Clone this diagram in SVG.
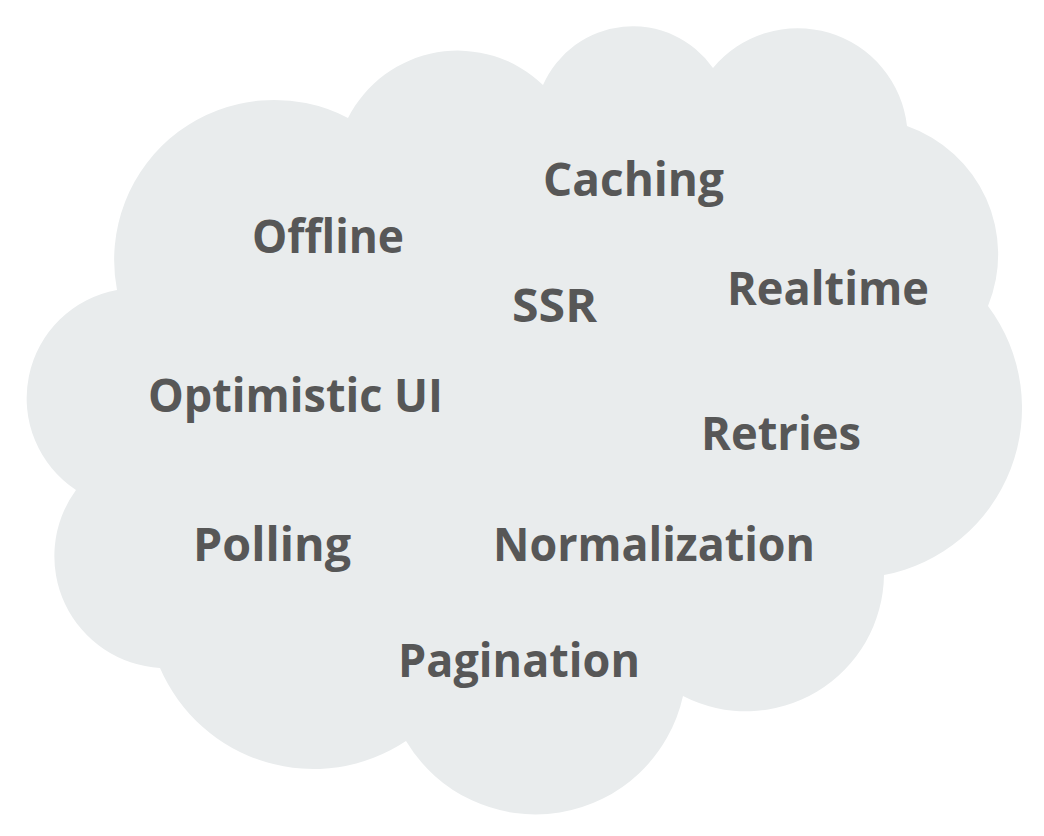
<svg xmlns="http://www.w3.org/2000/svg" width="1044" height="836" viewBox="0 0 1044 836">
<style>
.w{font-family:"Open Sans","Liberation Sans",sans-serif;font-weight:700;font-size:46px;fill:#575757}
</style>
<rect width="1044" height="836" fill="#ffffff"/>
<g id="cloud">
<path d="M117,290 A160,160 0 0 1 348,118 A123,123 0 0 1 543,85 A98,98 0 0 1 713,68 A110,110 0 0 1 907,126 A136,136 0 0 1 988,306 A170,170 0 0 1 884,575 A138,138 0 0 1 683,696 A151,151 0 0 1 406,741 A167,167 0 0 1 160,668 A112,112 0 0 1 76,490 A110,110 0 0 1 117,290 Z" fill="#e9eced"/>
</g>
<g id="words">
<text id="caching" class="w" x="543" y="196" textLength="181" lengthAdjust="spacingAndGlyphs">Caching</text>
<text id="offline" class="w" x="252" y="253" textLength="152" lengthAdjust="spacingAndGlyphs">Offline</text>
<text id="ssr" class="w" x="512" y="322" textLength="85" lengthAdjust="spacingAndGlyphs">SSR</text>
<text id="realtime" class="w" x="727" y="305" textLength="202" lengthAdjust="spacingAndGlyphs">Realtime</text>
<text id="optimistic" class="w" x="148" y="412" textLength="295" lengthAdjust="spacingAndGlyphs">Optimistic UI</text>
<text id="retries" class="w" x="701" y="450" textLength="160" lengthAdjust="spacingAndGlyphs">Retries</text>
<text id="polling" class="w" x="193" y="561" textLength="158" lengthAdjust="spacingAndGlyphs">Polling</text>
<text id="normalization" class="w" x="493" y="561" textLength="322" lengthAdjust="spacingAndGlyphs">Normalization</text>
<text id="pagination" class="w" x="398" y="677" textLength="242" lengthAdjust="spacingAndGlyphs">Pagination</text>
</g>
</svg>
